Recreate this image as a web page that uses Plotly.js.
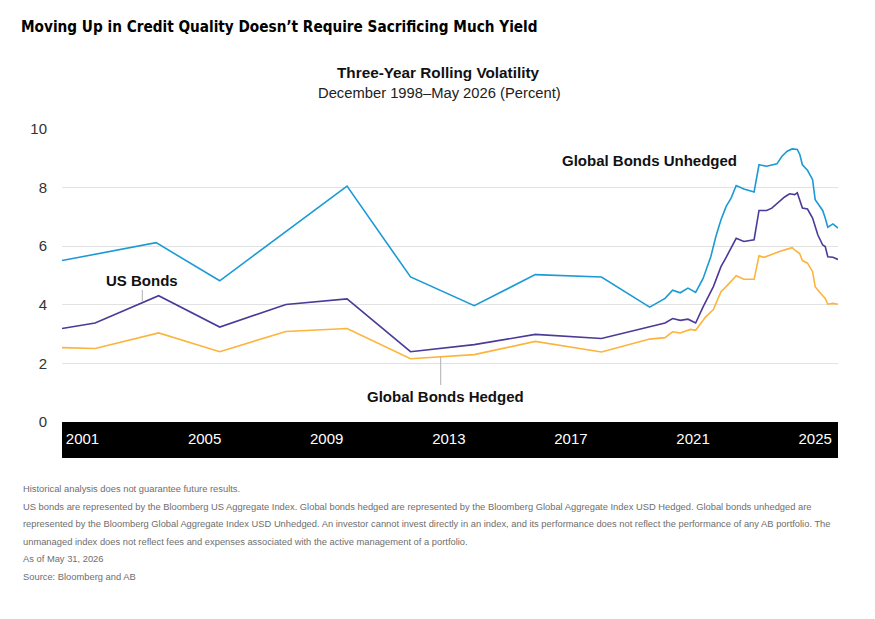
<!DOCTYPE html>
<html>
<head>
<meta charset="utf-8">
<script src="https://cdn.plot.ly/plotly-3.0.1.min.js"></script>
<style>
  html, body { margin: 0; padding: 0; background: #ffffff; }
  #chart { width: 875px; height: 619px; }
</style>
</head>
<body>
<div id="chart"></div>
<script>
// ---------- data ----------
const unhedgedDates = ["2000-05","2003-06","2005-07","2009-09","2011-10","2013-11","2015-11","2018-01","2019-08","2020-02","2020-05","2020-08","2020-11","2021-02","2021-05","2021-08","2021-10","2021-12","2022-02","2022-04","2022-06","2022-09","2023-01","2023-03","2023-06","2023-10","2023-12","2024-02","2024-04","2024-06","2024-07","2024-08","2024-10","2024-12","2025-01","2025-04","2025-05","2025-06","2025-08","2025-10"];
const unhedgedValues = [5.51,6.12,4.82,8.05,4.95,3.97,5.03,4.95,3.92,4.22,4.50,4.41,4.57,4.42,4.90,5.64,6.33,6.90,7.36,7.64,8.07,7.95,7.85,8.78,8.73,8.81,9.07,9.24,9.32,9.30,9.13,8.78,8.59,8.27,7.59,7.22,6.96,6.65,6.76,6.62];

const usDates = ["2000-05","2001-06","2003-07","2005-07","2007-09","2009-09","2011-10","2013-11","2015-11","2018-01","2020-02","2020-05","2020-08","2020-11","2021-02","2021-05","2021-09","2021-12","2022-02","2022-06","2022-09","2023-01","2023-03","2023-06","2023-08","2023-11","2024-01","2024-03","2024-05","2024-06","2024-07","2024-08","2024-10","2024-12","2025-02","2025-04","2025-05","2025-06","2025-08","2025-10"];
const usValues = [3.19,3.38,4.31,3.24,4.01,4.20,2.40,2.64,2.99,2.85,3.38,3.53,3.47,3.51,3.38,3.93,4.62,5.30,5.62,6.27,6.16,6.22,7.22,7.22,7.30,7.53,7.68,7.79,7.76,7.82,7.59,7.30,7.27,6.96,6.39,6.04,5.99,5.64,5.62,5.55];

const hedgedDates = ["2000-05","2001-06","2003-07","2005-07","2007-09","2009-09","2011-10","2013-11","2015-11","2018-01","2019-08","2020-02","2020-05","2020-08","2020-12","2021-02","2021-06","2021-09","2021-12","2022-02","2022-06","2022-09","2023-01","2023-03","2023-05","2023-08","2023-11","2024-02","2024-04","2024-05","2024-07","2024-08","2024-10","2024-12","2025-01","2025-03","2025-05","2025-06","2025-08","2025-10"];
const hedgedValues = [2.54,2.51,3.04,2.40,3.09,3.19,2.16,2.30,2.75,2.39,2.83,2.88,3.08,3.04,3.16,3.13,3.59,3.84,4.45,4.62,4.99,4.87,4.87,5.67,5.62,5.73,5.82,5.90,5.95,5.87,5.74,5.51,5.42,5.13,4.62,4.41,4.22,4.02,4.05,4.02];

const seriesNames = ["Global Bonds Unhedged","US Bonds","Global Bonds Hedged"];
const yearTickVals = ["2001-01-01","2005-01-01","2009-01-01","2013-01-01","2017-01-01","2021-01-01","2025-01-01"];
const yearTickText = ["2001","2005","2009","2013","2017","2021","2025"];
const yTickVals = [0,2,4,6,8,10];

const titleText = "Moving Up in Credit Quality Doesn’t Require Sacrificing Much Yield";
const subtitleText = "Three-Year Rolling Volatility";
const periodText = "December 1998–May 2026 (Percent)";
const footnotes = [
  "Historical analysis does not guarantee future results.",
  "US bonds are represented by the Bloomberg US Aggregate Index. Global bonds hedged are represented by the Bloomberg Global Aggregate Index USD Hedged. Global bonds unhedged are",
  "represented by the Bloomberg Global Aggregate Index USD Unhedged. An investor cannot invest directly in an index, and its performance does not reflect the performance of any AB portfolio. The",
  "unmanaged index does not reflect fees and expenses associated with the active management of a portfolio.",
  "As of May 31, 2026",
  "Source: Bloomberg and AB"
];

// ---------- layout helpers ----------
const W = 875, H = 619;
const M = {l: 62, r: 37, t: 129, b: 197};
const PW = W - M.l - M.r, PH = H - M.t - M.b;
const px = x => (x - M.l) / PW;           // page x -> paper x
const py = y => (H - M.b - y) / PH;       // page y -> paper y

const FONT = "'Liberation Sans', Arimo, Helvetica, Arial, sans-serif";
const COND = "'Liberation Sans Narrow', 'DejaVu Sans Condensed', 'Liberation Sans', sans-serif";
const colors = {unhedged: "#1b9ad6", us: "#4d3a98", hedged: "#fdb43c"};

const traces = [
  {x: unhedgedDates, y: unhedgedValues, name: seriesNames[0], type: "scatter", mode: "lines",
   line: {color: colors.unhedged, width: 1.6}, hoverinfo: "skip"},
  {x: usDates, y: usValues, name: seriesNames[1], type: "scatter", mode: "lines",
   line: {color: colors.us, width: 1.6}, hoverinfo: "skip"},
  {x: hedgedDates, y: hedgedValues, name: seriesNames[2], type: "scatter", mode: "lines",
   line: {color: colors.hedged, width: 1.6}, hoverinfo: "skip"}
];

const labelFont = {family: FONT, size: 15, color: "#111111"};

const annotations = [
  {xref: "paper", yref: "paper", x: px(438), y: py(72.5), xanchor: "center", yanchor: "middle",
   text: "<b>" + subtitleText + "</b>", showarrow: false, font: {family: FONT, size: 15.3, color: "#111111"}},
  {xref: "paper", yref: "paper", x: px(439), y: py(93), xanchor: "center", yanchor: "middle",
   text: periodText, showarrow: false, font: {family: FONT, size: 14.75, color: "#222222"}},
  {xref: "paper", yref: "paper", x: px(560), y: py(160), xanchor: "left", yanchor: "middle",
   text: "<b>" + seriesNames[0] + "</b>", showarrow: false, font: labelFont},
  {xref: "paper", yref: "paper", x: px(142), y: py(280), xanchor: "center", yanchor: "middle",
   text: "<b>" + seriesNames[1] + "</b>", showarrow: false, font: labelFont},
  {xref: "paper", yref: "paper", x: px(445.5), y: py(396), xanchor: "center", yanchor: "middle",
   text: "<b>" + seriesNames[2] + "</b>", showarrow: false, font: labelFont}
];

const footY = [489, 506.5, 524, 541.5, 559, 576.5];
footnotes.forEach((t, i) => annotations.push({
  xref: "paper", yref: "paper", x: px(21), y: py(footY[i]), xanchor: "left", yanchor: "middle",
  text: t, showarrow: false, font: {family: FONT, size: 9.35, color: "#6e6e6e"}
}));

const shapes = [
  // black axis band
  {type: "rect", xref: "paper", yref: "paper", x0: 0, x1: 1, y0: 0, y1: py(458),
   fillcolor: "#000000", line: {width: 0}, layer: "below"},
  // leader lines
  {type: "line", xref: "paper", yref: "paper", x0: px(142.3), x1: px(142.3), y0: py(290), y1: py(301.5),
   line: {color: "#b0b0b0", width: 1}},
  {type: "line", xref: "paper", yref: "paper", x0: px(440.7), x1: px(440.7), y0: py(357), y1: py(385),
   line: {color: "#b0b0b0", width: 1}}
];

const layout = {
  width: W, height: H,
  margin: M,
  paper_bgcolor: "#ffffff", plot_bgcolor: "#ffffff",
  showlegend: false,
  title: {
    text: "<b>" + titleText + "</b>",
    xref: "container", yref: "container", x: 21 / W, y: 1 - 27 / H,
    xanchor: "left", yanchor: "middle",
    font: {family: COND, size: 15.2, color: "#000000"}
  },
  xaxis: {
    type: "date",
    range: ["2000-05-01", "2025-10-01"],
    tickmode: "array", tickvals: yearTickVals, ticktext: yearTickText,
    showgrid: false, zeroline: false, showline: false, ticks: "",
    tickfont: {family: FONT, size: 15, color: "#ffffff"},
    ticklabelstandoff: 6, fixedrange: true
  },
  yaxis: {
    range: [0, 10],
    tickmode: "array", tickvals: yTickVals,
    showgrid: true, gridcolor: "#e2e2e2", gridwidth: 1,
    zeroline: false, showline: false, ticks: "",
    tickfont: {family: FONT, size: 15, color: "#333333"},
    ticklabelstandoff: 14, fixedrange: true
  },
  annotations: annotations,
  shapes: shapes
};

Plotly.newPlot("chart", traces, layout, {staticPlot: true, displayModeBar: false});
</script>
</body>
</html>
